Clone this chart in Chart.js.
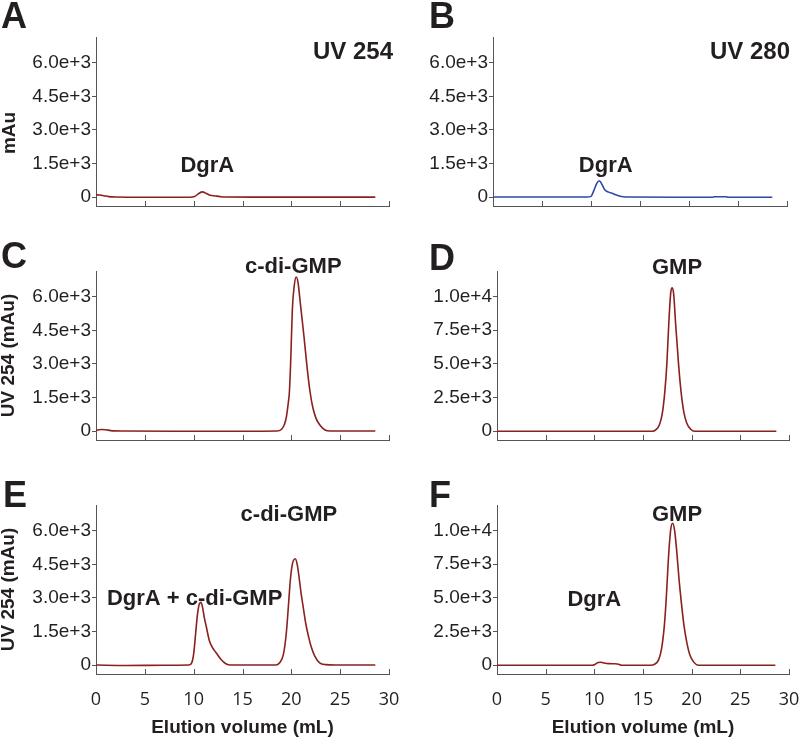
<!DOCTYPE html>
<html><head><meta charset="utf-8">
<script src="https://cdn.jsdelivr.net/npm/chart.js@4.4.0/dist/chart.umd.min.js"></script>
<style>
html,body{margin:0;padding:0;background:#fff;}
#wrap{position:relative;width:800px;height:739px;overflow:hidden;background:#fff;}
canvas{position:absolute;}
</style></head><body><div id="wrap"></div>
<script>
// ---- tick values ----
const xTicks = [0, 5, 10, 15, 20, 25, 30];
const yTicksNuc = [0, 1500, 3000, 4500, 6000];
const yTicksGmp = [0, 2500, 5000, 7500, 10000];

// ---- series (elution volume mL, absorbance mAu) ----
const xA = [0, 0.4, 0.8, 1.3, 2, 5, 8, 9.6, 10.1, 10.5, 10.9, 11.3, 11.7, 12.2, 12.7, 13.2, 16, 20, 25, 28.6];
const yA = [100, 90, 60, 20, 0, -10, -10, -10, 20, 150, 230, 160, 80, 50, 20, 0, -5, -5, -5, -5];

const xB = [0, 5, 9.6, 10.0, 10.3, 10.6, 10.85, 11.1, 11.4, 11.8, 12.3, 12.8, 13.3, 14, 20, 22.4, 22.6, 23.8, 24, 28.5];
const yB = [0, 0, 0, 30, 300, 620, 730, 580, 330, 220, 140, 60, 10, 0, -10, -10, 10, 10, -10, -10];

const xC = [0, 0.5, 1, 1.5, 3, 8, 15, 18.5, 19.0, 19.3, 19.5, 19.7, 19.8, 19.95, 20.1, 20.3, 20.5, 20.7, 20.85, 21.0, 21.3, 21.6, 21.9, 22.2, 22.5, 22.9, 23.4, 24, 28.6];
const yC = [30, 70, 60, 20, 0, -10, -10, 0, 80, 300, 650, 1300, 1730, 3300, 5400, 6500, 6880, 6600, 6000, 5400, 4200, 2900, 1800, 1050, 600, 280, 60, 0, 0];

const xD = [0, 5, 10, 15, 16.0, 16.3, 16.7, 17.0, 17.25, 17.45, 17.65, 17.85, 18.0, 18.15, 18.35, 18.65, 18.9, 19.2, 19.5, 19.9, 20.3, 25, 28.7];
const yD = [0, 0, 0, 0, 0, 100, 500, 1400, 3000, 5000, 8000, 10300, 10660, 10200, 8000, 5000, 3000, 1400, 600, 150, 0, 0, 0];

const xE = [0, 3, 7, 9.5, 9.8, 10.0, 10.2, 10.4, 10.6, 10.75, 10.9, 11.1, 11.3, 11.6, 11.9, 12.3, 12.8, 13.3, 13.8, 14.7, 16.5, 18.4, 18.8, 19.2, 19.5, 19.7, 19.9, 20.1, 20.4, 20.6, 20.8, 21.0, 21.2, 21.5, 21.8, 22.0, 22.4, 22.9, 23.5, 24.5, 28.6];
const yE = [0, -20, -10, 0, 100, 500, 1400, 2300, 2750, 2800, 2600, 2100, 1700, 1100, 800, 550, 250, 60, 0, 0, 0, 0, 100, 500, 1500, 2630, 3800, 4500, 4750, 4500, 3900, 3200, 2630, 1800, 1200, 860, 400, 100, 20, 0, 0];

const xF = [0, 5, 9.8, 10.1, 10.4, 10.7, 11.0, 11.5, 12.0, 12.5, 12.8, 15.8, 16.2, 16.6, 16.9, 17.2, 17.4, 17.6, 17.85, 18.05, 18.25, 18.45, 18.7, 18.95, 19.2, 19.5, 19.8, 20.2, 20.7, 25, 28.6];
const yF = [0, 0, 0, 80, 200, 220, 170, 120, 110, 80, 0, 0, 80, 400, 1200, 3000, 5100, 7800, 10100, 10550, 10000, 8600, 6400, 4600, 3000, 1700, 800, 250, 0, 0, 0];

// ---- styling ----
const RED = '#8b2020', BLUE = '#2e48a6', AXIS = '#555555', TXT = '#231f20';
const SANS = '"Liberation Sans", Arial, Helvetica, sans-serif';
const wrap = document.getElementById('wrap');

function makeChart(p) {
  const c = document.createElement('canvas');
  c.width = p.w; c.height = p.h;
  c.style.left = p.left + 'px'; c.style.top = p.top + 'px';
  c.style.width = p.w + 'px'; c.style.height = p.h + 'px';
  wrap.appendChild(c);

  const overlay = {
    id: 'overlay',
    afterDraw(chart) {
      const ctx = chart.ctx, xs = chart.scales.x, ys = chart.scales.y, ca = chart.chartArea;
      ctx.save();
      // inward x tick marks
      ctx.strokeStyle = AXIS; ctx.lineWidth = 1;
      xs.ticks.forEach(t => {
        const px = Math.round(xs.getPixelForValue(t.value)) + 0.5;
        ctx.beginPath(); ctx.moveTo(px, ca.bottom); ctx.lineTo(px, ca.bottom - 5); ctx.stroke();
      });
      ctx.fillStyle = TXT;
      // panel letter
      ctx.font = 'bold 36px ' + SANS;
      ctx.textAlign = 'left'; ctx.textBaseline = 'alphabetic';
      ctx.fillText(p.letter, p.letterX, p.letterY);
      // panel title
      if (p.title) {
        ctx.font = 'bold 24px ' + SANS;
        ctx.textAlign = 'right';
        ctx.fillText(p.title, p.titleX, p.titleY);
      }
      // annotations in data coordinates
      ctx.font = 'bold 22px ' + SANS;
      ctx.textAlign = 'center';
      p.notes.forEach(n => ctx.fillText(n.text, xs.getPixelForValue(n.x), ys.getPixelForValue(n.y)));
      // y axis title
      if (p.ytitle) {
        ctx.font = 'bold 19px ' + SANS;
        ctx.translate(p.ytitleX, p.ytitleY != null ? p.ytitleY : (ca.top + ca.bottom) / 2);
        ctx.rotate(-Math.PI / 2);
        ctx.textAlign = 'center'; ctx.textBaseline = 'middle';
        ctx.fillText(p.ytitle, 0, 0);
      }
      ctx.restore();
    }
  };

  new Chart(c, {
    type: 'line',
    data: { datasets: [{
      data: p.xs.map((x, i) => ({ x: x, y: p.ys[i] })),
      borderColor: p.color, borderWidth: 1.6, pointRadius: 0, fill: false,
      cubicInterpolationMode: 'monotone', tension: 0.4
    }]},
    options: {
      responsive: false, animation: false, devicePixelRatio: 1,
      layout: { padding: { top: 37, right: p.padR, bottom: 0, left: 0 } },
      plugins: { legend: { display: false }, tooltip: { enabled: false }, title: { display: false } },
      scales: {
        x: {
          type: 'linear', min: 0, max: 30,
          afterBuildTicks: s => { s.ticks = xTicks.map(v => ({ value: v })); },
          afterFit: s => { s.height = p.xH; },
          grid: { display: false, drawTicks: true, tickLength: 15 },
          border: { display: true, color: AXIS, width: 1 },
          ticks: { display: p.showX, padding: 0, color: TXT, maxRotation: 0,
                   font: { family: '"Open Sans", sans-serif', size: 18 } },
          title: { display: p.showX, text: 'Elution volume (mL)', color: TXT,
                   font: { family: SANS, size: 19, weight: 'bold' }, padding: { top: 0, bottom: 0 } }
        },
        y: {
          type: 'linear', min: p.ymin, max: p.ymax,
          afterBuildTicks: s => { s.ticks = p.yticks.map(v => ({ value: v })); },
          afterFit: s => { s.width = p.yW; },
          grid: { display: true, drawOnChartArea: false, drawTicks: true, tickLength: 4, color: AXIS },
          border: { display: true, color: AXIS, width: 1 },
          ticks: { padding: 1, color: TXT, font: { family: SANS, size: 19 },
                   callback: v => v === 0 ? '0' : Number(v).toExponential(1) }
        }
      }
    },
    plugins: [overlay]
  });
}

const rows = [{ top: 0, h: 234, xH: 28 }, { top: 234, h: 234, xH: 28 }, { top: 468, h: 271, xH: 65 }];

makeChart({ left: 0, w: 400, ...rows[0], yW: 96, padR: 11, xs: xA, ys: yA, color: RED,
  ymin: -400, ymax: 7150, yticks: yTicksNuc, showX: false,
  letter: 'A', letterX: 1, letterY: 28, title: 'UV 254', titleX: 393, titleY: 59,
  ytitle: 'mAu', ytitleX: 10, ytitleY: 133,
  notes: [{ text: 'DgrA', x: 11.4, y: 1110 }] });

makeChart({ left: 400, w: 400, ...rows[0], yW: 93, padR: 13, xs: xB, ys: yB, color: BLUE,
  ymin: -400, ymax: 7150, yticks: yTicksNuc, showX: false,
  letter: 'B', letterX: 29, letterY: 28, title: 'UV 280', titleX: 390, titleY: 59,
  notes: [{ text: 'DgrA', x: 11.5, y: 1110 }] });

makeChart({ left: 0, w: 400, ...rows[1], yW: 96, padR: 11, xs: xC, ys: yC, color: RED,
  ymin: -400, ymax: 7150, yticks: yTicksNuc, showX: false,
  letter: 'C', letterX: 1, letterY: 34, ytitle: 'UV 254 (mAu)', ytitleX: 9,
  notes: [{ text: 'c-di-GMP', x: 20.2, y: 7050 }] });

makeChart({ left: 400, w: 400, ...rows[1], yW: 97, padR: 11, xs: xD, ys: yD, color: RED,
  ymin: -650, ymax: 11900, yticks: yTicksGmp, showX: false,
  letter: 'D', letterX: 29, letterY: 36,
  notes: [{ text: 'GMP', x: 18.5, y: 11690 }] });

makeChart({ left: 0, w: 400, ...rows[2], yW: 96, padR: 11, xs: xE, ys: yE, color: RED,
  ymin: -400, ymax: 7150, yticks: yTicksNuc, showX: true,
  letter: 'E', letterX: 3, letterY: 39, ytitle: 'UV 254 (mAu)', ytitleX: 9,
  notes: [{ text: 'c-di-GMP', x: 19.75, y: 6435 }, { text: 'DgrA + c-di-GMP', x: 10.1, y: 2700 }] });

makeChart({ left: 400, w: 400, ...rows[2], yW: 97, padR: 11, xs: xF, ys: yF, color: RED,
  ymin: -650, ymax: 11900, yticks: yTicksGmp, showX: true,
  letter: 'F', letterX: 29, letterY: 39,
  notes: [{ text: 'GMP', x: 18.5, y: 10735 }, { text: 'DgrA', x: 10.0, y: 4410 }] });
</script>
</body></html>
